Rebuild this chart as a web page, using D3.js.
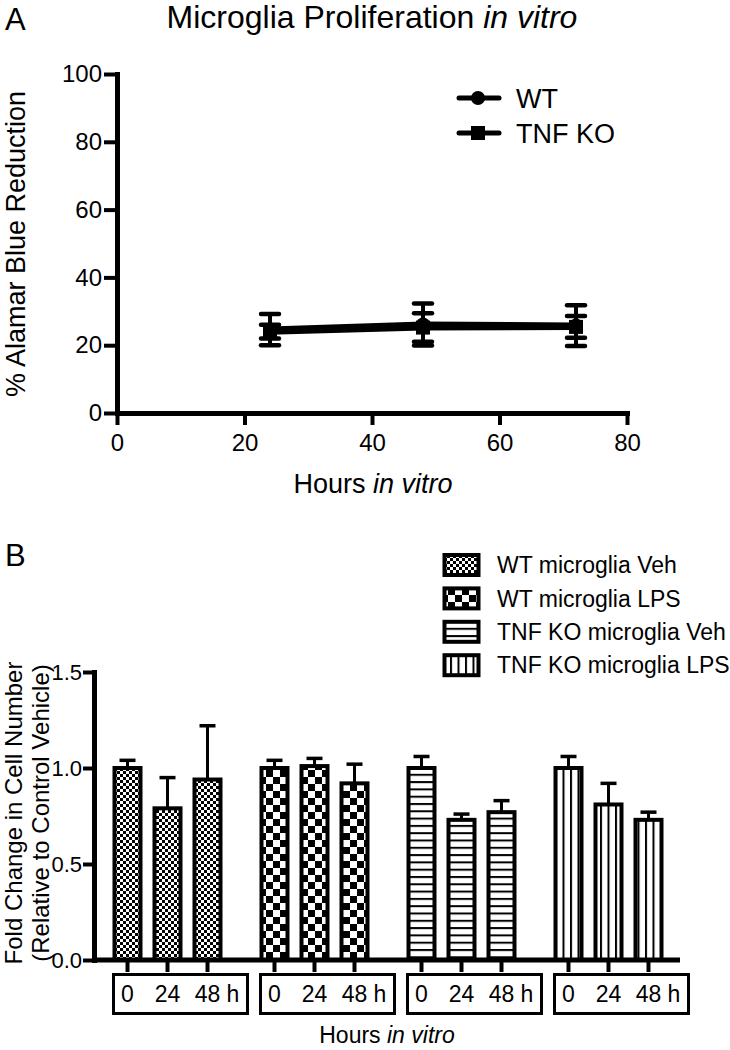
<!DOCTYPE html>
<html>
<head>
<meta charset="utf-8">
<script src="https://cdn.jsdelivr.net/npm/d3@7"></script>
<style>
	body { margin: 0; background: #fff; }
	svg text { font-family: 'Liberation Sans', Arial, Helvetica, sans-serif; fill: #000; }
</style>
</head>
<body>
<div id="chart"></div>
<script>
// Panel A - Alamar blue reduction
const hours = [24, 48, 72];
const wtMean = [24.6, 26.1, 25.8];
const wtSD = [4.6, 6.2, 6.0];
const koMean = [24.0, 25.2, 25.4];
const koSD = [2.0, 4.2, 3.2];
const xTicksA = [0, 20, 40, 60, 80];
const yTicksA = [0, 20, 40, 60, 80, 100];
const seriesA = ['WT', 'TNF KO'];

// Panel B - fold change in cell number
const groups = ['WT microglia Veh', 'WT microglia LPS', 'TNF KO microglia Veh', 'TNF KO microglia LPS'];
const timepoints = ['0', '24', '48'];
const foldMeans = [
	[1.00, 0.79, 0.94],
	[1.00, 1.01, 0.92],
	[1.00, 0.73, 0.77],
	[1.00, 0.81, 0.73]
];
const foldErr = [
	[0.04, 0.16, 0.28],
	[0.04, 0.04, 0.10],
	[0.06, 0.03, 0.06],
	[0.06, 0.11, 0.04]
];
const yTicksB = [0, 0.5, 1.0, 1.5];

const svg = d3.select('#chart')
	.append('svg')
		.attr('width', 730)
		.attr('height', 1050);

// fill patterns for the bars
const defs = svg.append('defs');
const addPattern = (id, w, h, rects) => {
	const p = defs.append('pattern')
		.attr('id', id)
		.attr('patternUnits', 'userSpaceOnUse')
		.attr('width', w)
		.attr('height', h);
	p.append('rect').attr('width', w).attr('height', h).attr('fill', '#fff');
	rects.forEach(r => p.append('rect')
		.attr('x', r[0]).attr('y', r[1])
		.attr('width', r[2]).attr('height', r[3])
		.attr('fill', '#000'));
};
addPattern('fineCheck', 6, 6, [[0, 0, 3, 3], [3, 3, 3, 3]]);
addPattern('bigCheck', 14, 14, [[0, 0, 7, 7], [7, 7, 7, 7]]);
addPattern('hLines', 8, 7.3, [[0, 0, 8, 2]]);
addPattern('vLines', 7.5, 8, [[0, 0, 2, 8]]);
const fills = ['url(#fineCheck)', 'url(#bigCheck)', 'url(#hLines)', 'url(#vLines)'];

const styleAxis = (axis, fontSize) => {
	axis.attr('font-size', null).attr('font-family', null);
	axis.select('.domain')
		.attr('stroke-width', 5)
		.attr('stroke-linecap', 'square');
	axis.selectAll('.tick line').attr('stroke-width', 4);
	axis.selectAll('.tick text').style('font-size', fontSize + 'px');
};

// ---------- Panel A ----------
svg.append('text')
	.attr('x', 5).attr('y', 30)
	.style('font-size', '31px')
	.text('A');

const title = svg.append('text')
	.attr('x', 372).attr('y', 28)
	.attr('text-anchor', 'middle')
	.style('font-size', '32px');
title.append('tspan').text('Microglia Proliferation ');
title.append('tspan').style('font-style', 'italic').text('in vitro');

const xA = d3.scaleLinear().domain([0, 80]).range([117, 627]);
const yA = d3.scaleLinear().domain([0, 100]).range([413, 74]);

const yAxisA = svg.append('g')
	.attr('transform', `translate(${xA(0)},0)`)
	.call(d3.axisLeft(yA).tickValues(yTicksA).tickSize(13).tickPadding(2).tickSizeOuter(0));
styleAxis(yAxisA, 24);

const xAxisA = svg.append('g')
	.attr('transform', `translate(0,${yA(0)})`)
	.call(d3.axisBottom(xA).tickValues(xTicksA).tickSize(12).tickPadding(9).tickSizeOuter(0));
styleAxis(xAxisA, 24);

svg.append('text')
	.attr('transform', 'translate(25,244) rotate(-90)')
	.attr('text-anchor', 'middle')
	.style('font-size', '27px')
	.text('% Alamar Blue Reduction');

const xLabelA = svg.append('text')
	.attr('x', 373).attr('y', 493)
	.attr('text-anchor', 'middle')
	.style('font-size', '27px');
xLabelA.append('tspan').text('Hours ');
xLabelA.append('tspan').style('font-style', 'italic').text('in vitro');

const seriesData = [
	{ name: seriesA[0], mean: wtMean, sd: wtSD, shape: 'circle' },
	{ name: seriesA[1], mean: koMean, sd: koSD, shape: 'square' }
];

const lineA = d3.line()
	.x((d, i) => xA(hours[i]))
	.y(d => yA(d));

seriesData.forEach(s => {
	// error bars
	s.mean.forEach((m, i) => {
		const cx = xA(hours[i]);
		const eb = svg.append('g').attr('stroke', '#000').attr('stroke-width', 4);
		eb.append('line')
			.attr('x1', cx).attr('x2', cx)
			.attr('y1', yA(m - s.sd[i])).attr('y2', yA(m + s.sd[i]));
		[m - s.sd[i], m + s.sd[i]].forEach(v => eb.append('line')
			.attr('x1', cx - 9).attr('x2', cx + 9)
			.attr('y1', yA(v)).attr('y2', yA(v))
			.attr('stroke-width', 4.5)
			.attr('stroke-linecap', 'round'));
	});
	svg.append('path')
		.attr('d', lineA(s.mean))
		.attr('fill', 'none')
		.attr('stroke', '#000')
		.attr('stroke-width', 6);
});

const drawMarker = (g, shape, cx, cy) => {
	if (shape === 'circle') {
		g.append('circle').attr('cx', cx).attr('cy', cy).attr('r', 7).attr('fill', '#000');
	} else {
		g.append('rect').attr('x', cx - 7).attr('y', cy - 7).attr('width', 14).attr('height', 14).attr('fill', '#000');
	}
};

seriesData.forEach(s => {
	s.mean.forEach((m, i) => drawMarker(svg, s.shape, xA(hours[i]), yA(m)));
});

// legend A
seriesData.forEach((s, i) => {
	const ly = 98 + i * 35;
	svg.append('line')
		.attr('x1', 459).attr('x2', 499)
		.attr('y1', ly).attr('y2', ly)
		.attr('stroke', '#000')
		.attr('stroke-width', 5)
		.attr('stroke-linecap', 'round');
	drawMarker(svg, s.shape, 478, ly);
	svg.append('text')
		.attr('x', 516).attr('y', ly)
		.attr('dy', '0.36em')
		.style('font-size', '27px')
		.text(s.name);
});

// ---------- Panel B ----------
svg.append('text')
	.attr('x', 5).attr('y', 566)
	.style('font-size', '31px')
	.text('B');

const groupX = d3.scaleBand().domain(groups).range([94, 682]);
const barX = d3.scaleBand().domain(timepoints).range([13.5, 133.5]).paddingInner(0.35).paddingOuter(0.175);
const yB = d3.scaleLinear().domain([0, 1.5]).range([960, 672]);

// legend B
groups.forEach((g, i) => {
	const ly = 565 + i * 33.4;
	svg.append('rect')
		.attr('x', 444.5).attr('y', ly - 10)
		.attr('width', 34).attr('height', 20)
		.attr('fill', fills[i])
		.attr('stroke', '#000')
		.attr('stroke-width', 4);
	svg.append('text')
		.attr('x', 497).attr('y', ly)
		.attr('dy', '0.36em')
		.style('font-size', '23px')
		.text(g);
});

// bars
groups.forEach((g, gi) => {
	timepoints.forEach((t, ti) => {
		const v = foldMeans[gi][ti];
		const e = foldErr[gi][ti];
		const bx = groupX(g) + barX(t);
		const cx = bx + barX.bandwidth() / 2;
		svg.append('line')
			.attr('x1', cx).attr('x2', cx)
			.attr('y1', yB(v)).attr('y2', yB(v + e))
			.attr('stroke', '#000').attr('stroke-width', 3);
		svg.append('line')
			.attr('x1', cx - 8).attr('x2', cx + 8)
			.attr('y1', yB(v + e)).attr('y2', yB(v + e))
			.attr('stroke', '#000').attr('stroke-width', 3.5);
		svg.append('rect')
			.attr('x', bx).attr('y', yB(v))
			.attr('width', barX.bandwidth())
			.attr('height', yB(0) - yB(v))
			.attr('fill', fills[gi])
			.attr('stroke', '#000')
			.attr('stroke-width', 4);
	});
});

const yAxisB = svg.append('g')
	.attr('transform', `translate(94,0)`)
	.call(d3.axisLeft(yB).tickValues(yTicksB).tickFormat(d3.format('.1f')).tickSize(11).tickPadding(1).tickSizeOuter(0));
styleAxis(yAxisB, 22);

svg.append('line')
	.attr('x1', 94).attr('x2', 680)
	.attr('y1', yB(0)).attr('y2', yB(0))
	.attr('stroke', '#000')
	.attr('stroke-width', 5);

// time point ticks and boxed labels
groups.forEach(g => {
	const gx = groupX(g);
	svg.append('rect')
		.attr('x', gx + 19.5).attr('y', 974.5)
		.attr('width', 134).attr('height', 39)
		.attr('fill', 'none')
		.attr('stroke', '#000')
		.attr('stroke-width', 3);
	timepoints.forEach(t => {
		const cx = gx + barX(t) + barX.bandwidth() / 2;
		svg.append('line')
			.attr('x1', cx).attr('x2', cx)
			.attr('y1', yB(0)).attr('y2', yB(0) + 12)
			.attr('stroke', '#000').attr('stroke-width', 4);
		svg.append('text')
			.attr('x', cx).attr('y', 1002)
			.attr('text-anchor', 'middle')
			.style('font-size', '23px')
			.text(t);
	});
	svg.append('text')
		.attr('x', gx + barX('48') + barX.bandwidth() / 2 + 19).attr('y', 1002)
		.style('font-size', '23px')
		.text('h');
});

svg.append('text')
	.attr('transform', 'translate(22,813) rotate(-90)')
	.attr('text-anchor', 'middle')
	.style('font-size', '24px')
	.text('Fold Change in Cell Number');
svg.append('text')
	.attr('transform', 'translate(49,813) rotate(-90)')
	.attr('text-anchor', 'middle')
	.style('font-size', '24px')
	.text('(Relative to Control Vehicle)');

const xLabelB = svg.append('text')
	.attr('x', 387).attr('y', 1043)
	.attr('text-anchor', 'middle')
	.style('font-size', '23px');
xLabelB.append('tspan').text('Hours ');
xLabelB.append('tspan').style('font-style', 'italic').text('in vitro');
</script>
</body>
</html>
